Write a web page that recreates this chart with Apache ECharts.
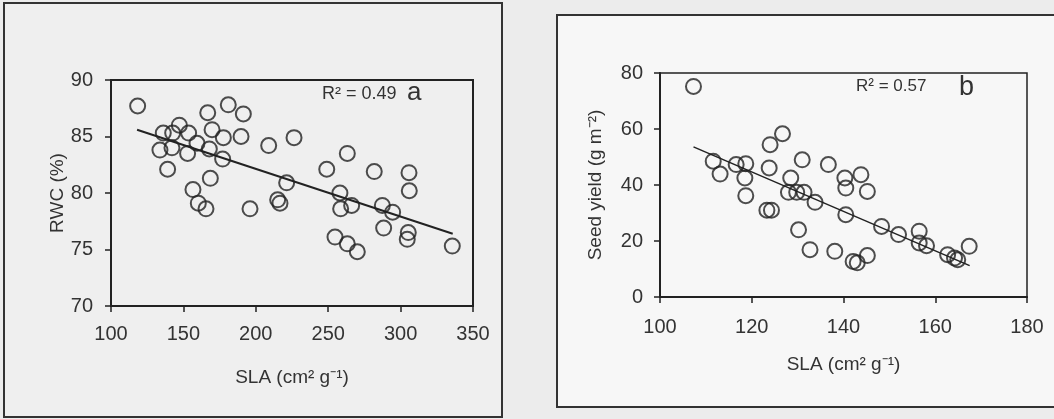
<!DOCTYPE html>
<html><head><meta charset="utf-8">
<script src="https://cdn.jsdelivr.net/npm/echarts@6/dist/echarts.min.js"></script>
<style>html,body{margin:0;padding:0;background:#ececec}#c{width:1054px;height:419px}</style>
</head><body><div id="c"></div>
<script>
// Panel a: SLA vs RWC
const slaA = [118.4,136.1,142.6,147.2,153.6,159.4,133.8,142.1,152.9,167.9,177.1,139.1,168.6,156.6,160.3,165.6,166.8,181.0,191.4,169.8,177.6,189.8,208.9,196.0,215.1,216.7,221.3,226.4,263.2,249.0,281.8,305.8,306.0,258.1,258.6,266.2,287.4,294.5,288.3,305.3,304.6,254.7,263.2,270.1,335.7];
const rwcA = [87.7,85.3,85.3,86.0,85.3,84.4,83.8,84.0,83.5,83.9,83.0,82.1,81.3,80.3,79.1,78.6,87.1,87.8,87.0,85.6,84.9,85.0,84.2,78.6,79.4,79.1,80.9,84.9,83.5,82.1,81.9,81.8,80.2,80.0,78.6,78.9,78.9,78.3,76.9,76.5,75.9,76.1,75.5,74.8,75.3];
const trendA = [[118, 85.6], [336, 76.4]];
// Panel b: SLA vs seed yield
const slaB = [107.3,111.6,113.1,116.6,118.7,118.5,118.7,124.0,126.7,123.8,131.0,136.7,128.5,128.0,129.8,131.4,133.8,123.3,124.3,130.2,132.7,138.1,140.3,140.5,143.8,145.2,140.5,142.1,143.0,145.2,148.3,152.0,156.5,156.5,158.1,162.7,164.2,164.9,167.4];
const yieldB = [75.2,48.5,43.9,47.3,47.6,42.5,36.2,54.4,58.3,46.1,49.0,47.3,42.5,37.4,37.4,37.4,33.8,31.0,31.0,24.0,16.9,16.3,42.5,38.9,43.7,37.7,29.4,12.7,12.2,14.8,25.2,22.3,23.5,19.3,18.3,15.1,13.9,13.3,18.1];
const trendB = [[107.3, 53.6], [167.5, 11.2]];
const xTicksA = [100, 350, 50];
const yTicksA = [70, 90, 5];
const xTicksB = [100, 180, 20];
const yTicksB = [0, 80, 20];
const r2A = 'R² = 0.49', tagA = 'a';
const r2B = 'R² = 0.57', tagB = 'b';

const FONT = 'Liberation Sans, Arial, sans-serif';
const INK = '#222';
const zip = (a, b) => a.map((v, i) => [v, b[i]]);

function xAx(idx, t, name, gap, margin) {
  return {
    type: 'value', gridIndex: idx, min: t[0], max: t[1], interval: t[2],
    name: name, nameLocation: 'middle', nameGap: gap,
    nameTextStyle: { fontFamily: FONT, fontSize: 19, color: '#333' },
    axisLine: { show: true, lineStyle: { color: INK, width: 2 } },
    axisTick: { show: true, inside: false, length: 6, lineStyle: { color: INK, width: 1.5 } },
    axisLabel: { fontFamily: FONT, fontSize: 20, color: '#333', margin: margin },
    splitLine: { show: false }
  };
}
function yAx(idx, t, name, gap, margin) {
  return {
    type: 'value', gridIndex: idx, min: t[0], max: t[1], interval: t[2],
    name: name, nameLocation: 'middle', nameGap: gap, nameRotate: 90,
    nameTextStyle: { fontFamily: FONT, fontSize: 19, color: '#333' },
    axisLine: { show: true, lineStyle: { color: INK, width: 2 } },
    axisTick: { show: true, inside: false, length: 6, lineStyle: { color: INK, width: 1.5 } },
    axisLabel: { fontFamily: FONT, fontSize: 20, color: '#333', margin: margin },
    splitLine: { show: false }
  };
}
const sym = (size) => ({
  type: 'scatter', symbol: 'circle', symbolSize: size,
  itemStyle: { color: 'rgba(0,0,0,0)', borderColor: INK, borderWidth: 2 },
  emphasis: { disabled: true }, z: 3
});

const chart = echarts.init(document.getElementById('c'), null, { renderer: 'canvas' });
chart.setOption({
  backgroundColor: '#ececec',
  animation: false,
  graphic: [
    { type: 'rect', z: -100, shape: { x: 4, y: 3, width: 498, height: 414 },
      style: { fill: '#efefef', stroke: '#333', lineWidth: 2 } },
    { type: 'rect', z: -100, shape: { x: 557, y: 15, width: 510, height: 392 },
      style: { fill: '#f7f7f7', stroke: '#333', lineWidth: 2 } },
    { type: 'text', left: 322, top: 85, style: { text: r2A, font: '18px ' + FONT, fill: '#333' } },
    { type: 'text', left: 407, top: 80, style: { text: tagA, font: '26px ' + FONT, fill: '#333' } },
    { type: 'text', left: 856, top: 78, style: { text: r2B, font: '17px ' + FONT, fill: '#333' } },
    { type: 'text', left: 959, top: 74, style: { text: tagB, font: '27px ' + FONT, fill: '#333' } }
  ],
  grid: [
    { left: 111, top: 80, width: 362, height: 226, show: true, borderColor: INK, borderWidth: 2, backgroundColor: 'transparent' },
    { left: 660, top: 73, width: 367, height: 224, show: true, borderColor: INK, borderWidth: 1.5, backgroundColor: 'transparent' }
  ],
  xAxis: [ xAx(0, xTicksA, 'SLA (cm² g⁻¹)', 62, 18), xAx(1, xTicksB, 'SLA (cm² g⁻¹)', 58, 20) ],
  yAxis: [ yAx(0, yTicksA, 'RWC (%)', 44, 18), yAx(1, yTicksB, 'Seed yield (g m⁻²)', 55, 17) ],
  series: [
    Object.assign(sym(15), { xAxisIndex: 0, yAxisIndex: 0, data: zip(slaA, rwcA) }),
    { type: 'line', xAxisIndex: 0, yAxisIndex: 0, data: trendA, symbol: 'none',
      lineStyle: { color: INK, width: 2 }, z: 2 },
    Object.assign(sym(15), { xAxisIndex: 1, yAxisIndex: 1, data: zip(slaB, yieldB) }),
    { type: 'line', xAxisIndex: 1, yAxisIndex: 1, data: trendB, symbol: 'none',
      lineStyle: { color: INK, width: 1.5 }, z: 2 }
  ]
});
</script></body></html>
